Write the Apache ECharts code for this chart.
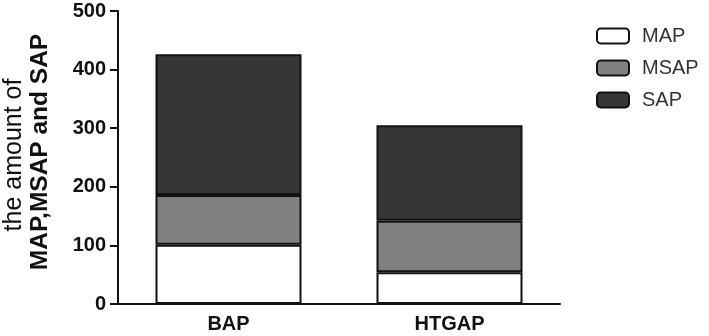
<!DOCTYPE html>
<html>
<head>
<meta charset="utf-8">
<script src="https://cdn.jsdelivr.net/npm/echarts@6/dist/echarts.min.js"></script>
<style>
  html, body { margin: 0; padding: 0; background: #fff; }
  #chart { width: 709px; height: 336px; }
</style>
</head>
<body>
<div id="chart"></div>
<script>
const categories = ['BAP', 'HTGAP'];
const mapValues = [101, 54];
const msapValues = [85, 88];
const sapValues = [240, 163];
const yTicks = [0, 100, 200, 300, 400, 500];
const yTitleLines = ['the amount of', 'MAP,MSAP and SAP'];

const font = '"Liberation Sans", Arial, sans-serif';

const chart = echarts.init(document.getElementById('chart'));

function barSeries(name, data, color) {
  return {
    name: name,
    type: 'bar',
    stack: 'total',
    data: data,
    barWidth: 146,
    itemStyle: {
      color: color,
      borderColor: '#111',
      borderWidth: 2
    },
    emphasis: { disabled: true }
  };
}

const option = {
  backgroundColor: '#fff',
  animation: false,
  textStyle: { fontFamily: font },
  grid: {
    left: 118,
    right: 149,
    top: 11,
    bottom: 32,
    containLabel: false,
    outerBoundsMode: 'none'
  },
  // two-line y axis title, each line styled on its own
  graphic: [
    {
      type: 'text',
      x: 14,
      y: 155,
      rotation: Math.PI / 2,
      style: {
        text: yTitleLines[0],
        font: '25px ' + font,
        fill: '#111',
        align: 'center',
        verticalAlign: 'middle'
      }
    },
    {
      type: 'text',
      x: 40,
      y: 152,
      rotation: Math.PI / 2,
      style: {
        text: yTitleLines[1],
        font: 'bold 24.5px ' + font,
        fill: '#111',
        align: 'center',
        verticalAlign: 'middle'
      }
    }
  ],
  legend: {
    orient: 'vertical',
    left: 591,
    top: 21,
    itemWidth: 32,
    itemHeight: 15,
    itemGap: 12,
    icon: 'roundRect',
    selectedMode: false,
    itemStyle: { borderColor: '#111', borderWidth: 2 },
    textStyle: {
      fontFamily: font,
      fontSize: 20,
      color: '#333',
      padding: [0, 0, 0, 8]
    },
    data: ['MAP', 'MSAP', 'SAP']
  },
  xAxis: {
    type: 'category',
    data: categories,
    axisLine: { lineStyle: { color: '#111', width: 2 } },
    axisTick: { alignWithLabel: true, length: 5, lineStyle: { color: '#111', width: 2 } },
    axisLabel: {
      fontFamily: font,
      fontSize: 20,
      fontWeight: 'bold',
      color: '#111',
      margin: 10
    }
  },
  yAxis: {
    type: 'value',
    min: yTicks[0],
    max: yTicks[yTicks.length - 1],
    interval: 100,
    axisLine: { show: true, lineStyle: { color: '#111', width: 2 } },
    axisTick: { show: true, length: 8, lineStyle: { color: '#111', width: 2 } },
    splitLine: { show: false },
    axisLabel: {
      fontFamily: font,
      fontSize: 20,
      fontWeight: 'bold',
      color: '#111',
      margin: 12
    }
  },
  series: [
    barSeries('MAP', mapValues, '#ffffff'),
    barSeries('MSAP', msapValues, '#808080'),
    barSeries('SAP', sapValues, '#363636')
  ]
};

chart.setOption(option);
</script>
</body>
</html>
